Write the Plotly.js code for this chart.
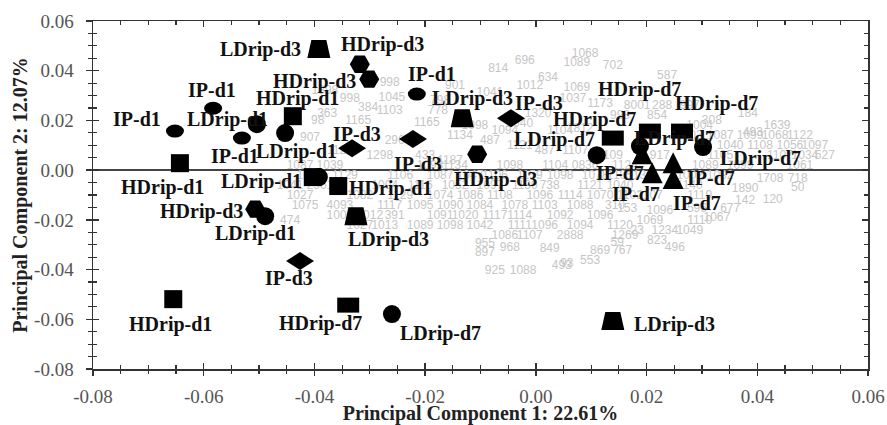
<!DOCTYPE html>
<html>
<head>
<meta charset="utf-8">
<script src="https://cdn.plot.ly/plotly-3.0.1.min.js"></script>
<style>html,body{margin:0;padding:0;background:#fff;}#chart{width:887px;height:425px;}</style>
</head>
<body>
<div id="chart"></div>
<script>
// ---- sample scores (PC1, PC2) ----
const ipd1X = [-0.0652, -0.0583, -0.0531, -0.0215];
const ipd1Y = [0.0157, 0.0249, 0.0129, 0.0306];
const ldrip1X = [-0.0504, -0.0453, -0.0392, -0.0489];
const ldrip1Y = [0.0185, 0.0149, -0.0028, -0.0185];
const hdrip1X = [-0.0643, -0.0439, -0.0403, -0.0357, -0.0655];
const hdrip1Y = [0.0028, 0.0217, -0.0028, -0.0064, -0.0519];
const hdrip3X = [-0.0318, -0.0301, -0.0106, -0.0507];
const hdrip3Y = [0.0426, 0.0366, 0.0064, -0.0157];
const ldrip3X = [-0.0392, -0.0133, -0.0325, 0.0139];
const ldrip3Y = [0.0487, 0.0209, -0.0185, -0.0607];
const ipd3X = [-0.0045, -0.0222, -0.0332, -0.0426];
const ipd3Y = [0.0209, 0.0125, 0.0088, -0.0366];
const hdrip7X = [0.0139, 0.0206, 0.0264, -0.0339];
const hdrip7Y = [0.0129, 0.0157, 0.0157, -0.0543];
const ldrip7X = [0.0110, 0.0188, 0.0302, -0.0260];
const ldrip7Y = [0.0060, 0.0097, 0.0093, -0.0579];
const ipd7X = [0.0192, 0.0210, 0.0248, 0.0248];
const ipd7Y = [0.0064, -0.0012, 0.0028, -0.0036];
const hdrip1Labels = ['HDrip-d1', 'HDrip-d1', '', 'HDrip-d1', 'HDrip-d1'];

// ---- variable loadings (grey numbers) ----
const greyX = [
 -0.0068,-0.0020,0.0074,0.0089,0.0139,0.0022,-0.0011,0.0074,0.0067,0.0237,-0.0146,-0.0083,-0.0264,
 -0.0381,-0.0336,-0.0260,-0.0264,-0.0377,-0.0303,-0.0321,-0.0408,-0.0394,-0.0177,-0.0197,-0.0173,-0.0255,-0.0200,-0.0282,
 -0.0137,-0.0110,-0.0083,-0.0056,-0.0029,0.0004,-0.0029,0.0016,0.0044,0.0080,0.0071,0.0116,-0.0354,-0.0155,
 -0.0426,-0.0372,-0.0191,-0.0146,-0.0047,0.0035,0.0089,
 -0.0408,-0.0345,-0.0245,-0.0173,-0.0119,-0.0074,-0.0011,0.0044,0.0107,0.0152,
 -0.0444,-0.0390,-0.0273,-0.0209,-0.0146,-0.0083,-0.0020,0.0025,0.0098,0.0152,
 -0.0426,-0.0318,-0.0245,-0.0173,-0.0119,-0.0065,0.0007,0.0062,0.0116,0.0170,
 -0.0417,-0.0354,-0.0264,-0.0209,-0.0155,-0.0101,-0.0038,0.0016,0.0080,0.0143,
 -0.0354,-0.0300,-0.0255,-0.0173,-0.0128,-0.0074,-0.0029,0.0044,0.0116,
 -0.0318,-0.0273,-0.0209,-0.0155,-0.0101,-0.0029,0.0016,0.0080,0.0152,
 -0.0056,-0.0011,0.0062,0.0161,
 -0.0092,-0.0092,-0.0047,0.0025,-0.0074,-0.0023,0.0047,0.0116,0.0156,0.0098,0.0056,0.0147,0.0183,-0.0444,0.0219,0.0251,
 0.0183,0.0228,0.0278,0.0152,0.0219,0.0318,0.0383,0.0296,0.0392,0.0436,
 0.0278,0.0333,0.0387,0.0432,0.0477,0.0351,0.0405,0.0459,0.0504,
 0.0134,0.0224,0.0333,0.0441,0.0486,0.0522,0.0161,0.0306,0.0369,0.0477,
 0.0188,0.0278,0.0333,0.0423,0.0473,0.0278,0.0378,0.0473,
 0.0206,0.0296,0.0378,0.0428,0.0165,0.0224,0.0291,0.0351,0.0206,0.0296,0.0327,0.0233,0.0278
];
const greyY = [
 0.0406,0.0438,0.0430,0.0467,0.0418,0.0370,0.0338,0.0330,0.0286,0.0378,0.0338,0.0310,0.0350,
 0.0318,0.0286,0.0290,0.0237,0.0225,0.0249,0.0197,0.0129,0.0197,0.0237,0.0189,0.0278,0.0117,0.0056,0.0056,
 0.0137,0.0177,0.0117,0.0157,0.0097,0.0225,0.0185,0.0076,0.0157,0.0165,0.0076,0.0265,0.0076,0.0036,
 0.0016,0.0016,0.0016,0.0016,0.0016,0.0016,0.0016,
 -0.0024,-0.0024,-0.0024,-0.0024,-0.0024,-0.0024,-0.0024,-0.0024,-0.0024,-0.0024,
 -0.0064,-0.0064,-0.0064,-0.0064,-0.0064,-0.0064,-0.0064,-0.0064,-0.0064,-0.0064,
 -0.0105,-0.0105,-0.0105,-0.0105,-0.0105,-0.0105,-0.0105,-0.0105,-0.0105,-0.0105,
 -0.0145,-0.0145,-0.0145,-0.0145,-0.0145,-0.0145,-0.0145,-0.0145,-0.0145,-0.0145,
 -0.0185,-0.0185,-0.0185,-0.0185,-0.0185,-0.0185,-0.0185,-0.0185,-0.0185,
 -0.0225,-0.0225,-0.0225,-0.0225,-0.0225,-0.0225,-0.0225,-0.0225,-0.0225,
 -0.0265,-0.0265,-0.0265,-0.0265,
 -0.0298,-0.0334,-0.0314,-0.0318,-0.0406,-0.0406,-0.0386,-0.0326,-0.0326,-0.0366,-0.0378,-0.0294,-0.0245,-0.0205,-0.0286,-0.0314,
 0.0257,0.0257,0.0257,0.0217,0.0217,0.0197,0.0225,0.0177,0.0149,0.0177,
 0.0137,0.0137,0.0137,0.0137,0.0137,0.0097,0.0097,0.0097,0.0097,
 0.0056,0.0056,0.0056,0.0056,0.0056,0.0056,0.0016,0.0016,0.0016,0.0016,
 -0.0024,-0.0024,-0.0024,-0.0036,-0.0036,-0.0064,-0.0076,-0.0072,
 -0.0105,-0.0105,-0.0125,-0.0121,-0.0157,-0.0165,-0.0157,-0.0157,-0.0205,-0.0205,-0.0193,-0.0245,-0.0245
];
const greyText = [
 '814','696','1089','1068','702','634','1012','1069','1037','587','901','1041','998',
 '1898','998','1045','1103','363','384','1165','907','98','778','1165','798','296','433','1298',
 '1134','1098','487','1094','1121','1320','1040','487','1104','1812','1107','1173','1123','1187',
 '1087','1039','1093','1134','1098','1104','0836',
 '1097','1129','1106','1087','1047','1106','1159','1098','1078','1105',
 '1041','2961','1004','1116','1052','1097','1130','738','1121','1040',
 '1027','1082','1129','1074','1086','1108','1096','1114','1070','1102',
 '1075','4093','1117','1095','1090','1084','1078','1103','1088','310',
 '1000','1012','391','1091','1020','1117','1114','1092','1096',
 '1027','1013','1089','1098','1042','1111','1096','1094','1120',
 '1086','1107','2888','1269',
 '955','897','968','849','925','1088','493','869','767','553','93','59','23','474','823','496',
 '8001','288','997','998','854','308','184','1004','493','1639',
 '1103','1087','1099','1068','1122','1040','1108','1056','1097',
 '1109','917','1105','1107','1034','527','1124','1089','1099','1061',
 '1130','1002','1092','1708','718','1140','1890','50',
 '1107','1119','142','120','153','1096','596','677','1069','1110','1067','1234','1049'
];

// axis ticks
const tickVals = [-0.08, -0.06, -0.04, -0.02, 0.00, 0.02, 0.04, 0.06];
const tickText = ['-0.08', '-0.06', '-0.04', '-0.02', '0.00', '0.02', '0.04', '0.06'];

// ---- styles ----
const groups = [
  {name:'IP-d1',    x:ipd1X,   y:ipd1Y,   labels:null, symbol:'circle', size:15,
   off:[[-38,-12],[-1,-18],[-7,18],[15,-20]]},
  {name:'LDrip-d1', x:ldrip1X, y:ldrip1Y, labels:null, symbol:'circle', size:18,
   off:[[-29,-5],[11,18],[-57,4],[-10,17]]},
  {name:'HDrip-d1', x:hdrip1X, y:hdrip1Y, labels:hdrip1Labels, symbol:'square', size:18,
   off:[[-17,24],[5,-18],[0,0],[52,2],[-3,25]]},
  {name:'HDrip-d3', x:hdrip3X, y:hdrip3Y, labels:null, symbol:'hexagon2', size:20,
   off:[[23,-20],[-55,2],[18,25],[-54,2]]},
  {name:'LDrip-d3', x:ldrip3X, y:ldrip3Y, labels:null, symbol:'square', size:18,
   off:[[-58,0],[10,-20],[33,23],[62,3]]},
  {name:'IP-d3',    x:ipd3X,   y:ipd3Y,   labels:null, symbol:'diamond', size:20,
   off:[[28,-15],[5,25],[5,-14],[-11,17]]},
  {name:'HDrip-d7', x:hdrip7X, y:hdrip7Y, labels:null, symbol:'square', size:18,
   off:[[-18,-19],[-10,-42],[34,-28],[-28,18]]},
  {name:'LDrip-d7', x:ldrip7X, y:ldrip7Y, labels:null, symbol:'circle', size:18,
   off:[[-42,-16],[35,-8],[57,11],[49,19]]},
  {name:'IP-d7',    x:ipd7X,   y:ipd7Y,   labels:null, symbol:'triangle-up', size:22,
   off:[[-22,19],[-16,21],[38,15],[24,24]]}
];
const customPaths = {
  'IP-d1':    'M9,0A9,6.5 0 1,1 -9,0A9,6.5 0 1,1 9,0Z',
  'HDrip-d7': 'M11,7.5H-11V-7.5H11Z',
  'LDrip-d3': 'M-11.5,9H11.5L7.5,-9H-7.5Z',
  'IP-d3':    'M14,0L0,9L-14,0L0,-9Z',
  'IP-d7':    'M-10.5,10H10.5L0,-11Z'
};

const serif = 'Liberation Serif, Times New Roman, serif';

const traces = [{
  type:'scatter', mode:'text', x:greyX, y:greyY, text:greyText,
  textfont:{family:'Liberation Sans, Arial, sans-serif', size:12, color:'#c6c6c6'},
  textposition:'middle center', hoverinfo:'skip', showlegend:false, cliponaxis:true
}];
const annotations = [];
groups.forEach(g => {
  traces.push({
    type:'scatter', mode:'markers', name:g.name, x:g.x, y:g.y,
    marker:{symbol:g.symbol, size:g.size, color:'#000', line:{width:0}},
    hoverinfo:'skip', showlegend:false, cliponaxis:false
  });
  g.x.forEach((xv, i) => {
    const txt = g.labels ? g.labels[i] : g.name;
    if (!txt) return;
    annotations.push({
      x:xv, y:g.y[i], xref:'x', yref:'y', text:txt, showarrow:false,
      xshift:g.off[i][0], yshift:-g.off[i][1],
      font:{family:serif, size:20, color:'#111', weight:'bold'}
    });
  });
});
traces.push({type:'scatter', mode:'markers', x:[null], y:[null], xaxis:'x2', yaxis:'y2',
  hoverinfo:'skip', showlegend:false});

const axisCommon = {
  range:[-0.08, 0.06], tickmode:'array', tickvals:tickVals, ticktext:tickText,
  showgrid:false, fixedrange:true
};
const layout = {
  width:887, height:425,
  margin:{l:93, r:19, t:21, b:56},
  paper_bgcolor:'#fff', plot_bgcolor:'#fff',
  showlegend:false, hovermode:false,
  font:{family:serif, color:'#444'},
  xaxis:Object.assign({}, axisCommon, {
    showline:true, linecolor:'#333', linewidth:1.5, mirror:'allticks',
    ticks:'inside', ticklen:6, tickwidth:1.5, tickcolor:'#333',
    minor:{tickmode:'linear', tick0:-0.08, dtick:0.005, ticks:'inside', ticklen:4, tickwidth:1.2, tickcolor:'#333'},
    tickfont:{family:serif, size:19, color:'#555'}, ticklabelstandoff:10,
    zeroline:false,
    title:{text:'Principal Component 1: 22.61%', font:{family:serif, size:20, color:'#222', weight:'bold'}, standoff:5}
  }),
  yaxis:Object.assign({}, axisCommon, {
    showline:true, linecolor:'#333', linewidth:1.5, mirror:'allticks',
    ticks:'inside', ticklen:6, tickwidth:1.5, tickcolor:'#333',
    minor:{tickmode:'linear', tick0:-0.08, dtick:0.005, ticks:'inside', ticklen:4, tickwidth:1.2, tickcolor:'#333'},
    tickfont:{family:serif, size:19, color:'#555'}, ticklabelstandoff:14,
    zeroline:true, zerolinecolor:'#444', zerolinewidth:1.5,
    title:{text:'Principal Component 2: 12.07%', font:{family:serif, size:20, color:'#222', weight:'bold'}, standoff:1}
  }),
  xaxis2:Object.assign({}, axisCommon, {
    overlaying:'x', anchor:'y2', side:'bottom', showline:false, zeroline:false,
    ticks:'outside', ticklen:6, tickwidth:1.5, tickcolor:'#333', showticklabels:false,
    minor:{tickmode:'linear', tick0:-0.08, dtick:0.005, ticks:'outside', ticklen:4, tickwidth:1.2, tickcolor:'#333'}
  }),
  yaxis2:Object.assign({}, axisCommon, {
    overlaying:'y', anchor:'x2', side:'left', showline:false, zeroline:false,
    ticks:'outside', ticklen:6, tickwidth:1.5, tickcolor:'#333', showticklabels:false,
    minor:{tickmode:'linear', tick0:-0.08, dtick:0.005, ticks:'outside', ticklen:4, tickwidth:1.2, tickcolor:'#333'}
  }),
  annotations:annotations
};

function reshape(gd){
  gd.querySelectorAll('.scatterlayer .trace').forEach(el => {
    const cd = el.__data__;
    const tr = cd && cd[0] && cd[0].trace;
    if (!tr || !customPaths[tr.name]) return;
    el.querySelectorAll('path.point').forEach(p => p.setAttribute('d', customPaths[tr.name]));
  });
}
const gd = document.getElementById('chart');
Plotly.newPlot(gd, traces, layout, {staticPlot:true, displayModeBar:false}).then(() => {
  reshape(gd);
  gd.on && gd.on('plotly_afterplot', () => reshape(gd));
});
</script>
</body>
</html>
